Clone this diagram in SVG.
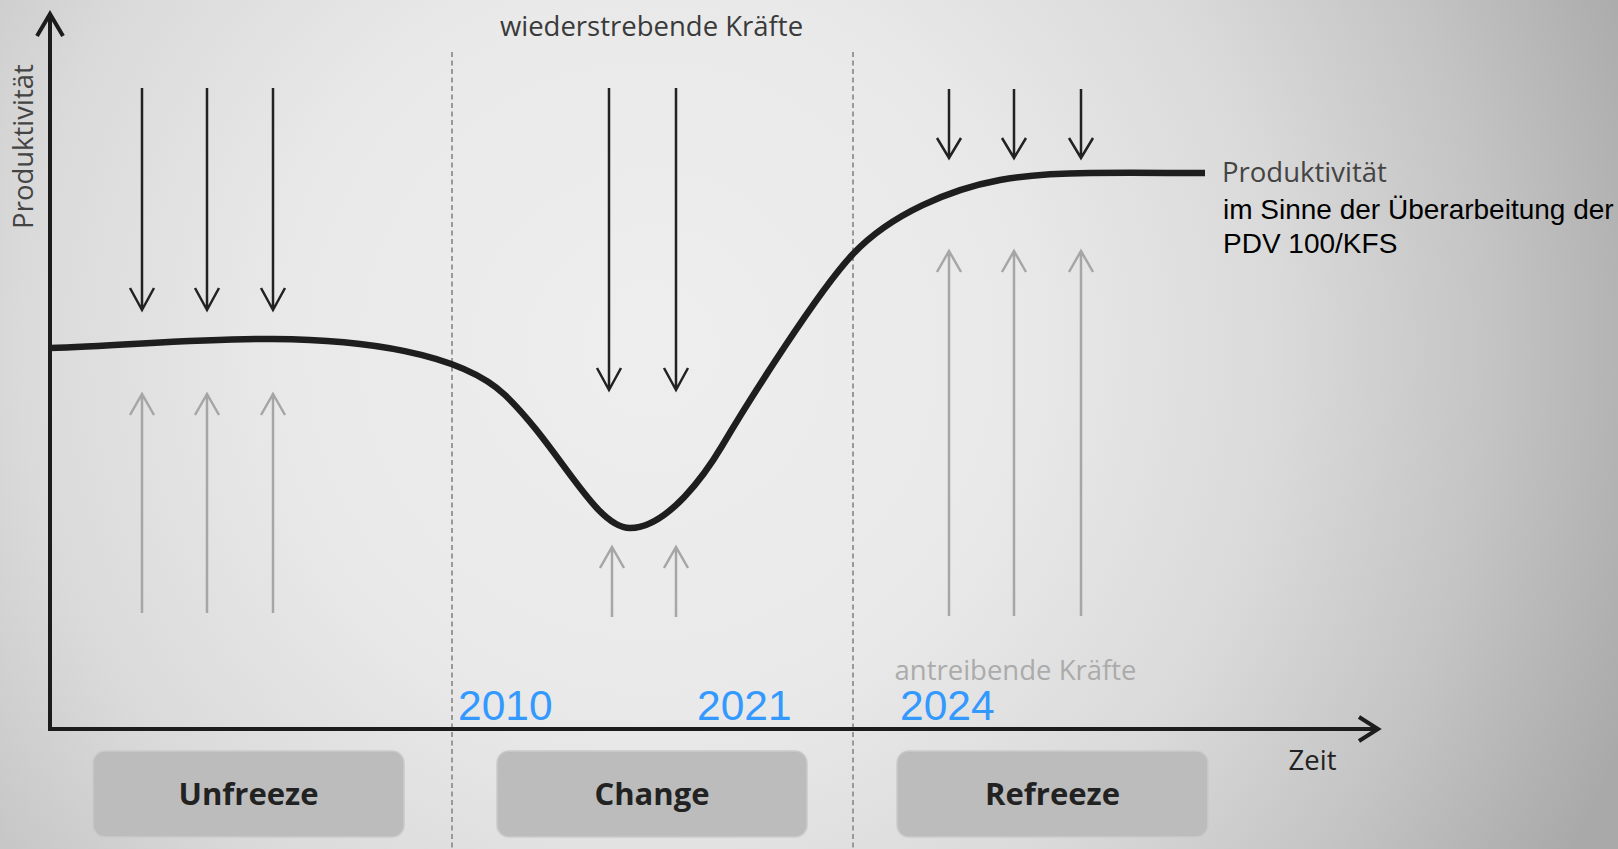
<svg xmlns="http://www.w3.org/2000/svg" width="1618" height="849" viewBox="0 0 1618 849">
<defs>
<radialGradient id="bg" gradientUnits="userSpaceOnUse" cx="650" cy="350" r="1050">
<stop offset="0" stop-color="#eeeeee"/>
<stop offset="0.35" stop-color="#e9e9e9"/>
<stop offset="0.6" stop-color="#dadada"/>
<stop offset="0.8" stop-color="#c4c4c4"/>
<stop offset="1" stop-color="#a9a9a9"/>
</radialGradient>
</defs>
<style>
.lbl{font-family:"Open Sans","DejaVu Sans",sans-serif;font-size:27.5px;fill:#3a3a3a}
.drive{font-family:"Open Sans","DejaVu Sans",sans-serif;font-size:27.5px;fill:#ababab}
.note{font-family:"Liberation Sans",Arial,sans-serif;font-size:28px;fill:#000}
.year{font-family:"Liberation Sans",Arial,sans-serif;font-size:42.5px;fill:#3399ff}
.phase{font-family:"Open Sans","DejaVu Sans",sans-serif;font-size:31px;font-weight:bold;fill:#222;text-anchor:middle}
.box{fill:#bcbcbc;stroke:#cacaca;stroke-width:1.5}
.axis{fill:none;stroke:#1c1c1c;stroke-width:4;stroke-linecap:butt;stroke-linejoin:miter}
.dash{stroke:#999;stroke-width:2;stroke-dasharray:5 3.5;fill:none}
.down{fill:none;stroke:#222;stroke-width:2.5;stroke-linejoin:miter}
.up{fill:none;stroke:#a6a6a6;stroke-width:2.5;stroke-linejoin:miter}
.curve{fill:none;stroke:#1e1e1e;stroke-width:6.5}
</style>
<rect x="0" y="0" width="1618" height="849" fill="url(#bg)"/>

<g id="dividers">
<line class="dash" x1="452" y1="52" x2="452" y2="849"/>
<line class="dash" x1="853" y1="52" x2="853" y2="849"/>
</g>

<g id="axes">
<path class="axis" d="M50,729 V16"/>
<polyline class="axis" points="37,36 50,14 63,36"/>
<path class="axis" d="M48,729 H1376"/>
<polyline class="axis" points="1359,717 1378,729 1359,741"/>
<text class="lbl" transform="translate(33,146.5) rotate(-90)" text-anchor="middle" style="fill:#444">Produktivität</text>
<text class="lbl" x="1312.5" y="770" text-anchor="middle" style="fill:#222">Zeit</text>
</g>

<g id="connectors">
<g id="resisting-forces">
<path class="down" d="M142,88 V309 M130,288 L142,310 L154,288"/>
<path class="down" d="M207,88 V309 M195,288 L207,310 L219,288"/>
<path class="down" d="M273,88 V309 M261,288 L273,310 L285,288"/>
<path class="down" d="M609,88 V389 M597,368 L609,390 L621,368"/>
<path class="down" d="M676,88 V389 M664,368 L676,390 L688,368"/>
<path class="down" d="M949,89 V157 M937,138 L949,158 L961,138"/>
<path class="down" d="M1014,89 V157 M1002,138 L1014,158 L1026,138"/>
<path class="down" d="M1081,89 V157 M1069,138 L1081,158 L1093,138"/>
</g>
<g id="driving-forces">
<path class="up" d="M142,613 V395 M130,415 L142,394 L154,415"/>
<path class="up" d="M207,613 V395 M195,415 L207,394 L219,415"/>
<path class="up" d="M273,613 V395 M261,415 L273,394 L285,415"/>
<path class="up" d="M612,617 V548 M600,568 L612,547 L624,568"/>
<path class="up" d="M676,617 V548 M664,568 L676,547 L688,568"/>
<path class="up" d="M949,616 V252 M937,272 L949,251 L961,272"/>
<path class="up" d="M1014,616 V252 M1002,272 L1014,251 L1026,272"/>
<path class="up" d="M1081,616 V252 M1069,272 L1081,251 L1093,272"/>
</g>
</g>

<g id="productivity-curve">
<path class="curve" d="M50,348 C124.4,345.8 198.6,338.3 273,339 C360,339.6 460,352 505,395 C560,448 595,528 630,528 C668,528 706.7,471.8 722,446 C747.5,403 818,291 853,254 C890.7,214 950.8,189 1000,180 C1029.6,174.6 1060,173.3 1090,173 C1129,172.6 1168,173 1205,173"/>
</g>

<g id="titles">
<text class="lbl" x="651.5" y="36" text-anchor="middle">wiederstrebende Kräfte</text>
<text class="drive" x="1015.5" y="680" text-anchor="middle">antreibende Kräfte</text>
</g>

<g id="curve-label">
<text class="lbl" x="1222" y="182" style="fill:#444">Produktivität</text>
<text class="note" x="1223" y="219">im Sinne der Überarbeitung der</text>
<text class="note" x="1223" y="253">PDV 100/KFS</text>
</g>

<g id="years">
<text class="year" x="458" y="720">2010</text>
<text class="year" x="697" y="720">2021</text>
<text class="year" x="900" y="720">2024</text>
</g>

<g id="unfreeze">
<rect class="box" x="93" y="751" width="311" height="86" rx="12"/>
<text class="phase" x="248.5" y="805">Unfreeze</text>
</g>
<g id="change">
<rect class="box" x="497" y="751" width="310" height="86" rx="12"/>
<text class="phase" x="652" y="805">Change</text>
</g>
<g id="refreeze">
<rect class="box" x="897" y="751" width="311" height="86" rx="12"/>
<text class="phase" x="1052.5" y="805">Refreeze</text>
</g>
</svg>
